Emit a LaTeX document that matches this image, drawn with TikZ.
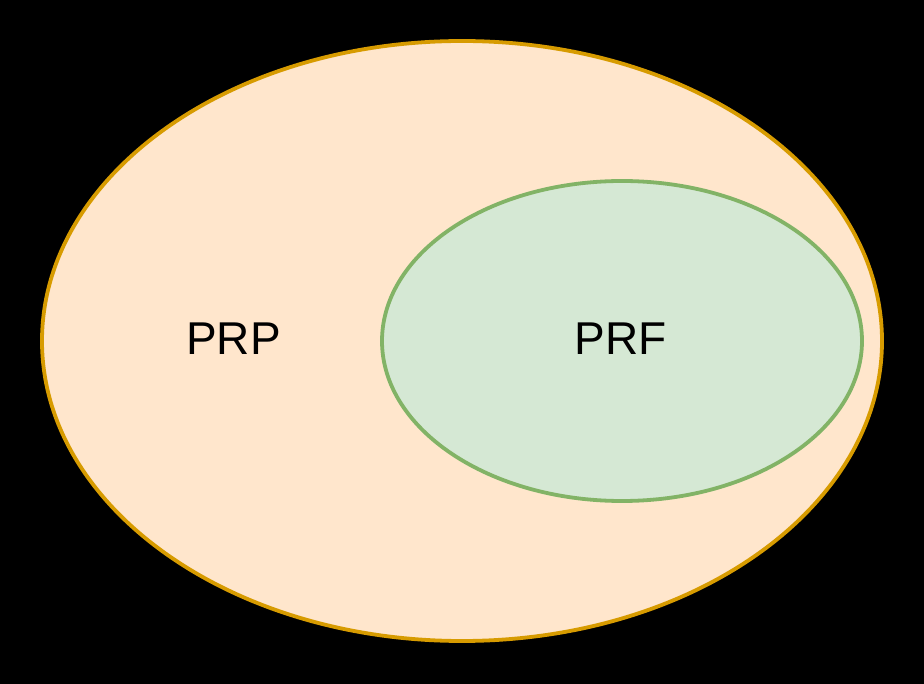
\documentclass[tikz,border=0pt]{standalone}
\usepackage{fontspec}
\setmainfont{Liberation Sans}
\usetikzlibrary{shapes.geometric}
\definecolor{orangefill}{HTML}{FFE6CC}
\definecolor{orangeline}{HTML}{D79B00}
\definecolor{greenfill}{HTML}{D5E8D4}
\definecolor{greenline}{HTML}{82B366}
\begin{document}
\begin{tikzpicture}[x=1pt,y=-1pt,
  setshape/.style={ellipse, inner sep=0pt, line width=3.8pt},
  setlabel/.style={font=\fontsize{46}{55}\selectfont, text=black, inner sep=0pt, anchor=base}]
  % canvas
  \fill[black] (0,0) rectangle (924,684);
  \useasboundingbox (0,0) rectangle (924,684);
  % outer set
  \node[setshape, draw=orangeline, fill=orangefill,
        minimum width=840pt, minimum height=600pt] (prp) at (462,341) {};
  \node[setlabel] (prplabel) at (233.5,355) {PRP};
  % inner set
  \node[setshape, draw=greenline, fill=greenfill,
        minimum width=480pt, minimum height=320pt] (prf) at (622,341) {};
  \node[setlabel] (prflabel) at (620.5,355) {PRF};
\end{tikzpicture}
\end{document}
